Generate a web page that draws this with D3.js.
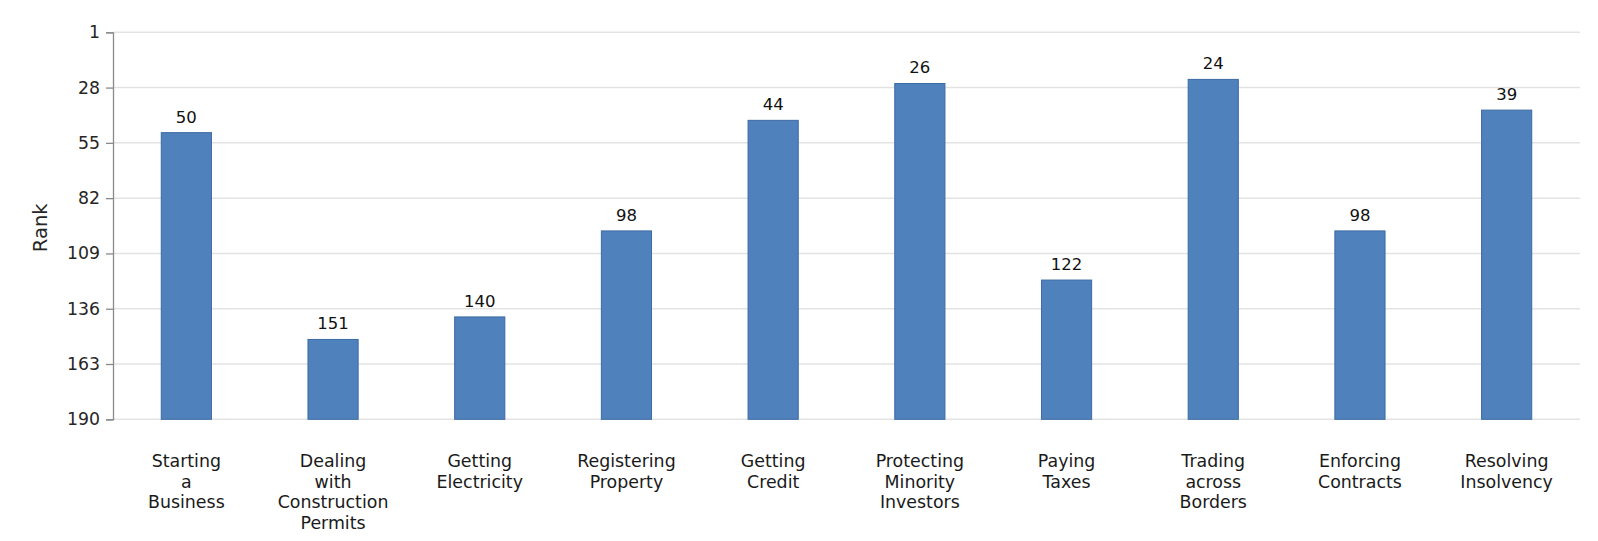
<!DOCTYPE html>
<html>
<head>
<meta charset="utf-8">
<script src="https://cdn.jsdelivr.net/npm/d3@7"></script>
<style>
  html, body { margin: 0; padding: 0; background: #fff; }
  svg { display: block; font-family: "DejaVu Sans", sans-serif; }
</style>
</head>
<body>
<svg id="chart" width="1598" height="541"></svg>
<script>
const categories = [
  ["Starting", "a", "Business"],
  ["Dealing", "with", "Construction", "Permits"],
  ["Getting", "Electricity"],
  ["Registering", "Property"],
  ["Getting", "Credit"],
  ["Protecting", "Minority", "Investors"],
  ["Paying", "Taxes"],
  ["Trading", "across", "Borders"],
  ["Enforcing", "Contracts"],
  ["Resolving", "Insolvency"]
];
const ranks = [50, 151, 140, 98, 44, 26, 122, 24, 98, 39];
const yTicks = [1, 28, 55, 82, 109, 136, 163, 190];
const yTitle = "Rank";

(function () {
const svg = d3.select("#chart");
const mLeft = 113, mRight = 1580, mTop = 32.3, mBottom = 419.3;

const x = d3.scaleBand().domain(d3.range(categories.length)).range([mLeft, mRight]).padding(0);
const y = d3.scaleLinear().domain([1, 190]).range([mTop, mBottom]);
const barW = x.bandwidth() * 0.342;

// gridlines
svg.append("g").selectAll("line").data(yTicks).join("line")
  .attr("x1", mLeft).attr("x2", mRight)
  .attr("y1", d => y(d)).attr("y2", d => y(d))
  .attr("stroke", "#e3e3e3").attr("stroke-width", 1.5);

// y axis
const yAxis = d3.axisLeft(y).tickValues(yTicks).tickSize(7).tickPadding(6);
const gy = svg.append("g").attr("transform", `translate(${mLeft},0)`).call(yAxis);
gy.select(".domain").attr("stroke", "#8a8a8a").attr("stroke-width", 1.3);
gy.selectAll(".tick line").attr("stroke", "#8a8a8a").attr("stroke-width", 1.3);
gy.selectAll(".tick text").attr("font-size", 17.3).attr("fill", "#262626")
  .attr("font-family", "DejaVu Sans, sans-serif");

// y title
svg.append("text")
  .attr("transform", `translate(47,${(mTop + mBottom) / 2 + 2}) rotate(-90)`)
  .attr("text-anchor", "middle")
  .attr("font-size", 19.5).attr("fill", "#262626")
  .text(yTitle);

// bars
svg.append("g").selectAll("rect").data(ranks).join("rect")
  .attr("x", (d, i) => x(i) + x.bandwidth() / 2 - barW / 2)
  .attr("width", barW)
  .attr("y", d => y(d))
  .attr("height", d => y(190) - y(d))
  .attr("fill", "#4f81bd")
  .attr("stroke", "#3d6aa3").attr("stroke-width", 1);

// value labels
svg.append("g").selectAll("text").data(ranks).join("text")
  .attr("x", (d, i) => x(i) + x.bandwidth() / 2)
  .attr("y", d => y(d) - 10)
  .attr("text-anchor", "middle")
  .attr("font-size", 16.5).attr("fill", "#111")
  .text(d => d);

// category labels
const cl = svg.append("g").selectAll("text").data(categories).join("text")
  .attr("x", (d, i) => x(i) + x.bandwidth() / 2)
  .attr("y", 467)
  .attr("text-anchor", "middle")
  .attr("font-size", 17.4).attr("fill", "#1a1a1a");
cl.each(function(lines, i) {
  d3.select(this).selectAll("tspan").data(lines).join("tspan")
    .attr("x", x(i) + x.bandwidth() / 2)
    .attr("dy", (d, j) => j === 0 ? 0 : 20.7)
    .text(d => d);
});
})();
</script>
</body>
</html>
